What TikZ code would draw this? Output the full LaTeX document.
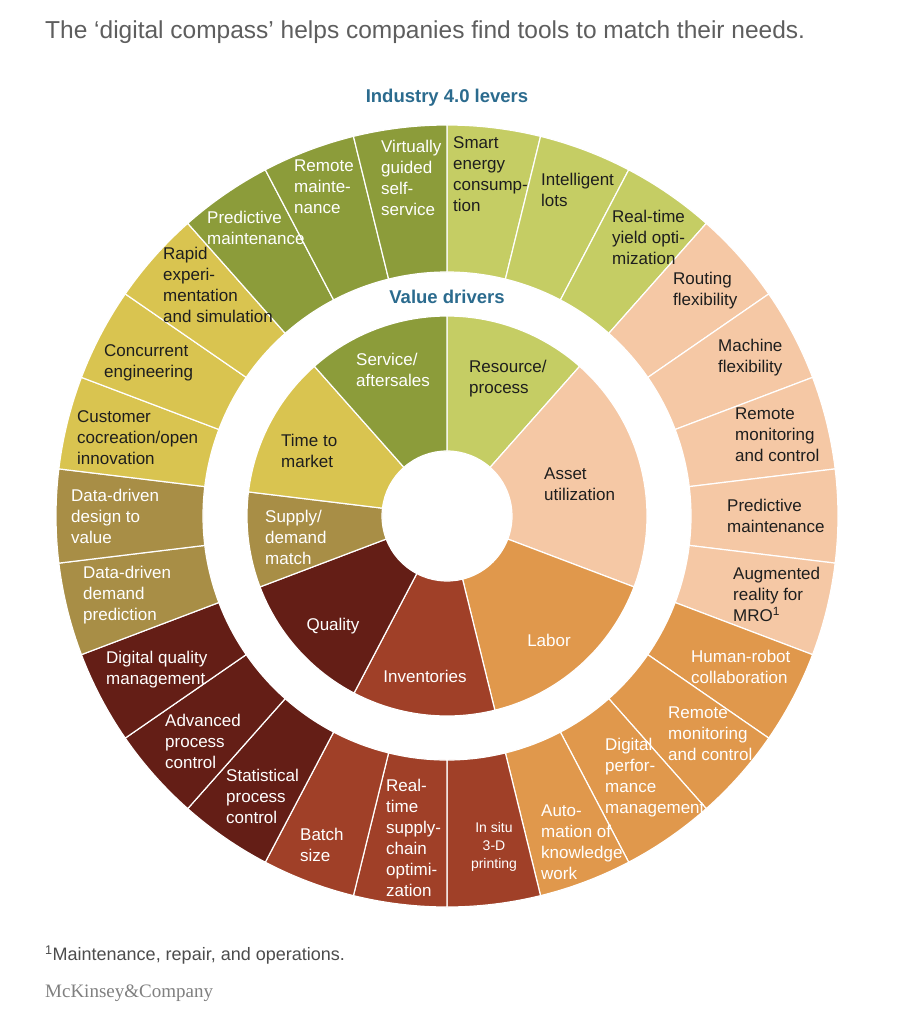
\documentclass[tikz,border=0pt]{standalone}
\usepackage{fontspec}
\setmainfont{Liberation Sans}
\newfontfamily\mckfont{Liberation Serif}
\definecolor{cLG}{HTML}{C5CD64}
\definecolor{cPe}{HTML}{F5C8A5}
\definecolor{cOr}{HTML}{E0984C}
\definecolor{cRu}{HTML}{A04028}
\definecolor{cMa}{HTML}{641E16}
\definecolor{cOl}{HTML}{A88E46}
\definecolor{cYe}{HTML}{D9C450}
\definecolor{cGr}{HTML}{8C9C3A}
\definecolor{cTeal}{HTML}{2B6B8E}
\definecolor{cTitle}{HTML}{5E5E5E}
\definecolor{cDark}{HTML}{1E1E1E}
\begin{document}
\begin{tikzpicture}[x=1bp,y=1bp,
  lab/.style={inner sep=0pt, anchor=north west, align=left, font=\fontsize{17bp}{21bp}\selectfont},
  dk/.style={lab, text=cDark},
  wt/.style={lab, text=white},
  hdr/.style={inner sep=0pt, font=\fontsize{18.5bp}{22bp}\selectfont\bfseries, text=cTeal},
  seg/.style={draw=white, line width=1.2bp}]
\useasboundingbox (0,0) rectangle (898,-1024);
\fill[white] (0,0) rectangle (898,-1024);
% outer ring: 26 levers
\foreach \i/\c in {0/cLG,1/cLG,2/cLG,3/cPe,4/cPe,5/cPe,6/cPe,7/cPe,8/cOr,9/cOr,10/cOr,11/cOr,12/cRu,13/cRu,14/cRu,15/cMa,16/cMa,17/cMa,18/cOl,19/cOl,20/cYe,21/cYe,22/cYe,23/cGr,24/cGr,25/cGr}{
  \pgfmathsetmacro\ta{90-\i*360/26}
  \pgfmathsetmacro\tb{90-(\i+1)*360/26}
  \filldraw[seg, fill=\c, shift={(447,-516)}] (\ta:244bp) arc[start angle=\ta, end angle=\tb, radius=244bp] -- (\tb:391bp) arc[start angle=\tb, end angle=\ta, radius=391bp] -- cycle;
}
% inner ring: value drivers
\foreach \a/\b/\c in {0/3/cLG,3/8/cPe,8/12/cOr,12/15/cRu,15/18/cMa,18/20/cOl,20/23/cYe,23/26/cGr}{
  \pgfmathsetmacro\ta{90-\a*360/26}
  \pgfmathsetmacro\tb{90-\b*360/26}
  \filldraw[seg, fill=\c, shift={(447,-516)}] (\ta:65bp) arc[start angle=\ta, end angle=\tb, radius=65bp] -- (\tb:200bp) arc[start angle=\tb, end angle=\ta, radius=200bp] -- cycle;
}
% title and headers
\node[inner sep=0pt, anchor=west, text=cTitle, font=\fontsize{24.5bp}{28bp}\selectfont] (title) at (45,-32) {The ‘digital compass’ helps companies find tools to match their needs.};
\node[hdr] (levers) at (447,-98) {Industry 4.0 levers};
\node[hdr] (drivers) at (447,-297) {Value drivers};
% outer labels
\node[dk] (l1) at (453,-136) {Smart\\energy\\consump-\\tion};
\node[dk] (l2) at (541,-173) {Intelligent\\lots};
\node[dk] (l3) at (612,-210) {Real-time\\yield opti-\\mization};
\node[dk] (l4) at (673,-272) {Routing\\flexibility};
\node[dk] (l5) at (718,-339) {Machine\\flexibility};
\node[dk] (l6) at (735,-408) {Remote\\monitoring\\and control};
\node[dk] (l7) at (727,-499) {Predictive\\maintenance};
\node[dk] (l8) at (733,-567) {Augmented\\reality for\\MRO\textsuperscript{1}};
\node[wt] (l9) at (691,-650) {Human-robot\\collaboration};
\node[wt] (l10) at (668,-707) {Remote\\monitoring\\and control};
\node[wt] (l11) at (605,-738) {Digital\\perfor-\\mance\\management};
\node[wt] (l12) at (541,-805) {Auto-\\mation of\\knowledge\\work};
\node[inner sep=0pt, anchor=north, align=center, text=white, font=\fontsize{14bp}{18bp}\selectfont] (l13) at (494,-822) {In situ\\3-D\\printing};
\node[wt] (l14) at (386,-779) {Real-\\time\\supply-\\chain\\optimi-\\zation};
\node[wt] (l15) at (300,-828) {Batch\\size};
\node[wt] (l16) at (226,-769) {Statistical\\process\\control};
\node[wt] (l17) at (165,-714) {Advanced\\process\\control};
\node[wt] (l18) at (106,-651) {Digital quality\\management};
\node[wt] (l19) at (83,-566) {Data-driven\\demand\\prediction};
\node[wt] (l20) at (71,-489) {Data-driven\\design to\\value};
\node[dk] (l21) at (77,-410) {Customer\\cocreation/open\\innovation};
\node[dk] (l22) at (104,-344) {Concurrent\\engineering};
\node[dk] (l23) at (163,-247) {Rapid\\experi-\\mentation\\and simulation};
\node[wt] (l24) at (207,-211) {Predictive\\maintenance};
\node[wt] (l25) at (294,-160) {Remote\\mainte-\\nance};
\node[wt] (l26) at (381,-140) {Virtually\\guided\\self-\\service};
% inner labels
\node[wt] (v1) at (356,-353) {Service/\\aftersales};
\node[dk] (v2) at (469,-360) {Resource/\\process};
\node[dk] (v3) at (544,-468) {Asset\\utilization};
\node[wt, anchor=center] (v4) at (549,-640) {Labor};
\node[wt, anchor=center] (v5) at (425,-676) {Inventories};
\node[wt, anchor=center] (v6) at (333,-626) {Quality};
\node[wt] (v7) at (265,-510) {Supply/\\demand\\match};
\node[dk] (v8) at (281,-434) {Time to\\market};
% footer
\node[inner sep=0pt, anchor=west, text=black!70, font=\fontsize{18bp}{21bp}\selectfont] (foot) at (45,-955) {\textsuperscript{1}Maintenance, repair, and operations.};
\node[inner sep=0pt, anchor=west, text=black!50, font=\fontsize{19bp}{22bp}\mckfont] (mck) at (45,-993) {McKinsey\&Company};
\end{tikzpicture}
\end{document}
